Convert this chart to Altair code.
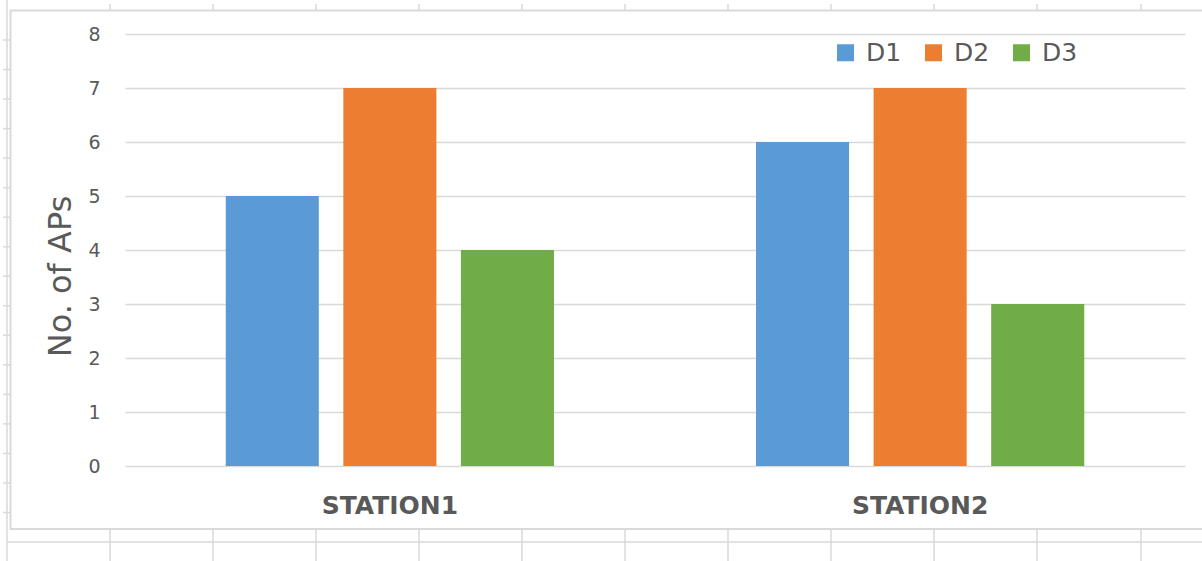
import altair as alt
import pandas as pd

# Access points counted per station and per series
stations = ["STATION1", "STATION2"]
series = ["D1", "D2", "D3"]
d1_values = [5, 6]
d2_values = [7, 7]
d3_values = [4, 3]
series_colors = ["#5B9BD5", "#ED7D31", "#70AD47"]

records = []
for i, station in enumerate(stations):
    for name, values in zip(series, [d1_values, d2_values, d3_values]):
        records.append({"station": station, "series": name, "aps": values[i]})
df = pd.DataFrame(records)

# Plot-area placement inside the page
LEFT, TOP = 125, 34
W, H = 1060, 432
GRID = "#D9D9D9"
TEXT = "#595959"
FONT = "DejaVu Sans"

bars = alt.Chart(df).mark_bar().encode(
    x=alt.X(
        "station:N",
        sort=stations,
        scale=alt.Scale(paddingInner=0.381, paddingOuter=0.19),
        axis=alt.Axis(
            title=None, labelAngle=0, labelFont=FONT, labelFontWeight="bold",
            labelFontSize=25, labelColor=TEXT, labelPadding=27,
            domain=False, ticks=False,
        ),
    ),
    xOffset=alt.XOffset(
        "series:N", sort=series,
        scale=alt.Scale(paddingInner=0.2085, paddingOuter=0),
    ),
    y=alt.Y(
        "aps:Q",
        scale=alt.Scale(domain=[0, 8], nice=False),
        axis=alt.Axis(
            title="No. of APs", values=list(range(0, 9)), format="d",
            labelFont=FONT, labelFontSize=19, labelColor=TEXT, labelPadding=25,
            domain=False, ticks=False, grid=True, gridColor=GRID, gridWidth=1.3,
            titleFont=FONT, titleFontSize=32, titleFontWeight="normal",
            titleColor=TEXT, titleAngle=270, titleAlign="center",
            titleBaseline="alphabetic", titleX=-55, titleY=242,
        ),
    ),
    color=alt.Color(
        "series:N",
        sort=series,
        scale=alt.Scale(domain=series, range=series_colors),
        legend=alt.Legend(
            title=None, orient="none", legendX=708, legendY=6,
            direction="horizontal", labelFont=FONT, labelFontSize=25,
            labelColor=TEXT, symbolType="square", symbolSize=289,
            symbolStrokeWidth=0, labelOffset=8, columnPadding=19, padding=0,
        ),
    ),
)

# Chart frame and the worksheet cell lines around it (page pixels)
frame = alt.Chart(alt.Data(values=[{}])).mark_rect(
    fillOpacity=0, stroke=GRID, strokeWidth=2
).encode(
    x=alt.value(10.5 - LEFT), x2=alt.value(1240 - LEFT),
    y=alt.value(10.5 - TOP), y2=alt.value(529 - TOP),
)

cols = [7, 110, 213, 316, 419, 522, 625, 728, 831, 934, 1037, 1141]
vsegs = [{"x": 7 - LEFT, "y1": 0 - TOP, "y2": 561 - TOP}]
for c in cols[1:]:
    vsegs.append({"x": c - LEFT, "y1": 4 - TOP, "y2": 10 - TOP})
    vsegs.append({"x": c - LEFT, "y1": 529 - TOP, "y2": 561 - TOP})
hsegs = [{"x1": 7 - LEFT, "x2": 1202 - LEFT, "y": 542 - TOP}]
for k in range(17):
    yy = 40 + 29.53 * k
    hsegs.append({"x1": 3 - LEFT, "x2": 10 - LEFT, "y": yy - TOP})

vlines = alt.Chart(pd.DataFrame(vsegs)).mark_rule(color=GRID, strokeWidth=1.5).encode(
    x=alt.X("x:Q", scale=None, axis=None),
    y=alt.Y("y1:Q", scale=None, axis=None),
    y2="y2:Q",
)
hlines = alt.Chart(pd.DataFrame(hsegs)).mark_rule(color=GRID, strokeWidth=1.5).encode(
    x=alt.X("x1:Q", scale=None, axis=None),
    x2="x2:Q",
    y=alt.Y("y:Q", scale=None, axis=None),
)

chart = alt.layer(vlines, hlines, frame, bars).resolve_scale(
    x="independent", y="independent"
).properties(
    width=W, height=H,
    autosize=alt.AutoSizeParams(type="none"),
    padding={"left": LEFT, "top": TOP, "right": 1202 - LEFT - W, "bottom": 561 - TOP - H},
    background="white",
).configure_view(stroke=None)

chart.save("out.html", embed_options={"renderer": "svg", "actions": False})
